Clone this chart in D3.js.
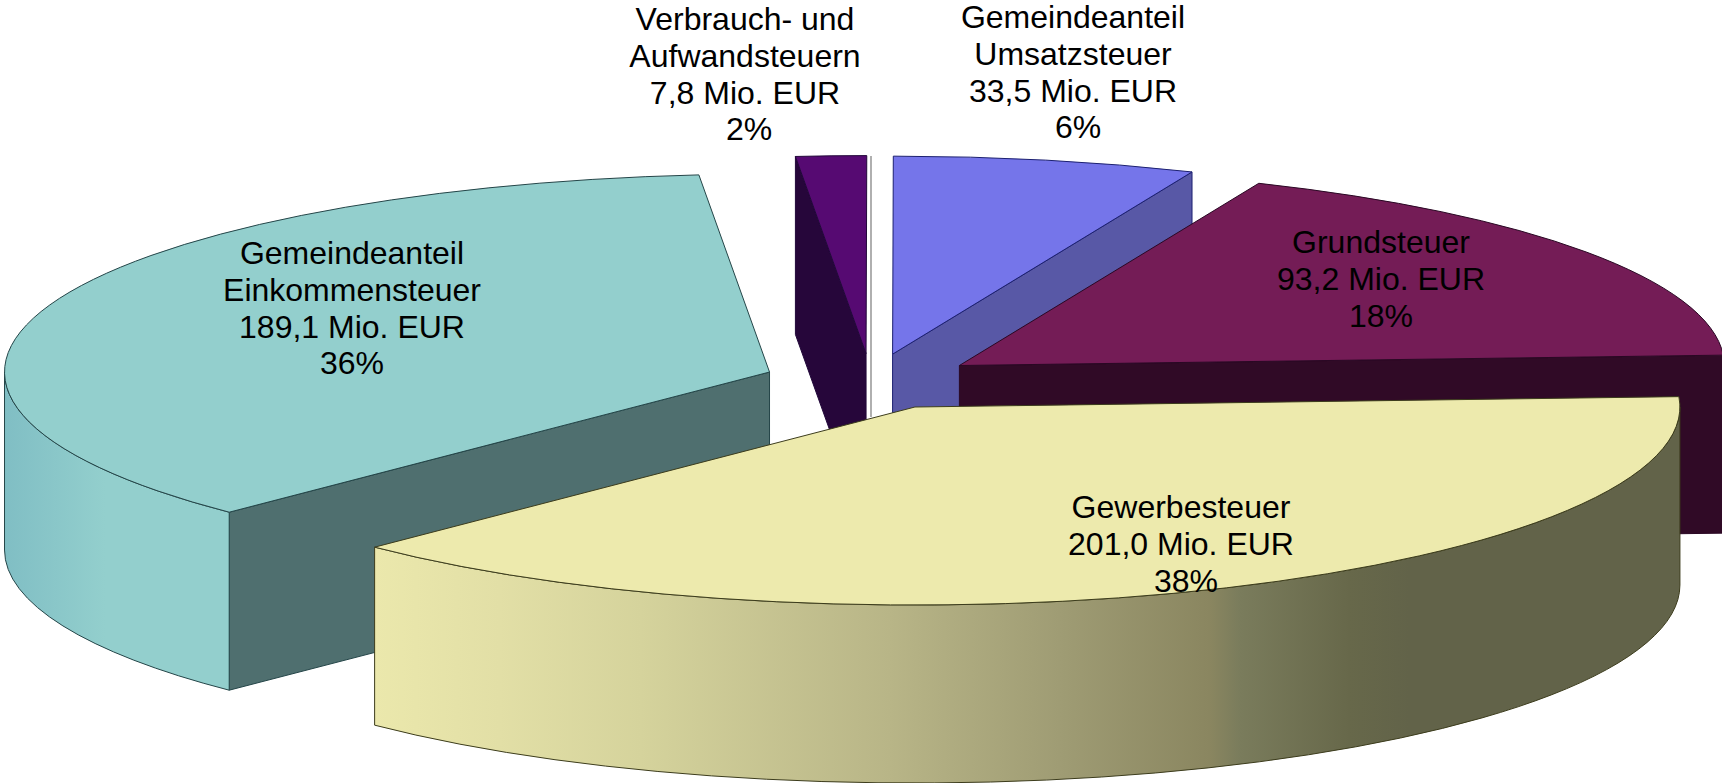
<!DOCTYPE html>
<html><head><meta charset="utf-8">
<style>html,body{margin:0;background:#fff}svg{display:block}text{font-family:"Liberation Sans",Arial,sans-serif;font-size:32px;fill:#000;text-anchor:middle}</style>
<script src="https://cdn.jsdelivr.net/npm/d3@7"></script>
</head><body>
<script>
// Data, clockwise from the slice that starts just above the right-hand extreme
const names = [["Gewerbesteuer"],["Gemeindeanteil","Einkommensteuer"],["Verbrauch- und","Aufwandsteuern"],["Gemeindeanteil","Umsatzsteuer"],["Grundsteuer"]];
const values = [201.0,189.1,7.8,33.5,93.2];
const percents = ["38%","36%","2%","6%","18%"];

// Styles
const topColors = ["#edeaad","#93cfcd","#560a72","#7575ea","#741c56"];
const cutColors = ["#62623f","#4f6f6f","#26063a","#5858a6","#300a26"];
const strokeColors = ["#3c3c1c","#244548","#22083a","#1c2070","#2a0824"];
const wallFills = ["url(#wallYellow)","url(#wallTeal)","#26063a","#5858a6","#300a26"];
const yellowStops = [[0,"#ebe8ac"],[.096,"#e2dfa6"],[.204,"#d5d39c"],[.395,"#b8b587"],[.525,"#9f9c74"],[.64,"#8a8660"],[.663,"#7a7c5c"],[.747,"#67684a"],[.793,"#626349"],[1,"#626349"]];
const tealStops = [[0,"#80bec4"],[.45,"#93cfcd"],[1,"#93cfcd"]];

// Layout
const W=1722,H=783, rx=765, ry=198, depth=178, explode=.141;
const cx=871, cy=381.5, startDeg=87;
const labelX=[1181,352,745,1073,1381], labelY=[518,264,30,28,253], lineGap=36.8;
const percentDx=[5,0,4,5,0];
const guide={top:156,bottom:417};

const svg=d3.select("body").append("svg").attr("width",W).attr("height",H);
const defs=svg.append("defs");
function grad(id,stops,x1,x2){
  const g=defs.append("linearGradient").attr("id",id).attr("gradientUnits","userSpaceOnUse")
    .attr("x1",x1).attr("x2",x2).attr("y1",0).attr("y2",0);
  stops.forEach(s=>g.append("stop").attr("offset",s[0]).attr("stop-color",s[1]));
}
const rad=Math.PI/180, TAU=2*Math.PI;
const pie=d3.pie().value(v=>v).sort(null).startAngle(startDeg*rad).endAngle(startDeg*rad+TAU);
const arcs=pie(values);
const ell=(a,θ,dy=0)=>[a[0]+rx*Math.sin(θ), a[1]-ry*Math.cos(θ)+dy];
const P=p=>p[0].toFixed(2)+" "+p[1].toFixed(2);
const arcTo=(p,back,large)=>`A${rx} ${ry} 0 ${large?1:0} ${back?0:1} ${P(p)}`;

arcs.forEach(d=>{const m=(d.startAngle+d.endAngle)/2;
  d.apex=[cx+explode*rx*Math.sin(m), cy-explode*ry*Math.cos(m)];});
grad("wallYellow",yellowStops,arcs[0].apex[0]-541,arcs[0].apex[0]+rx);
grad("wallTeal",tealStops,arcs[1].apex[0]-rx,arcs[1].apex[0]-541);

const zOrder=[1,2,3,4,0];
zOrder.forEach(i=>{
  const d=arcs[i], a=d.apex, g=svg.append("g").attr("stroke",strokeColors[i]).attr("stroke-width",1).attr("stroke-linejoin","round");
  // cut faces
  const wall=(θ)=>{const o=ell(a,θ);
    g.append("path").attr("fill",cutColors[i])
     .attr("d",`M${P(a)}L${P(o)}L${P([o[0],o[1]+depth])}L${P([a[0],a[1]+depth])}Z`);};
  if(Math.sin(d.startAngle)<-1e-3) wall(d.startAngle);
  if(Math.sin(d.endAngle)>1e-3) wall(d.endAngle);
  // outer rim: visible part lies between the right and left extremes
  const lo=Math.max(d.startAngle,Math.PI/2), hi=Math.min(d.endAngle,1.5*Math.PI);
  if(hi>lo){
    const p0=ell(a,lo),p1=ell(a,hi),l=hi-lo>Math.PI;
    g.append("path").attr("fill",wallFills[i])
     .attr("d",`M${P(p0)}${arcTo(p1,false,l)}L${P([p1[0],p1[1]+depth])}${arcTo([p0[0],p0[1]+depth],true,l)}Z`);
  }
  // top face
  const s=ell(a,d.startAngle),e=ell(a,d.endAngle);
  g.append("path").attr("fill",topColors[i])
   .attr("d",`M${P(a)}L${P(s)}${arcTo(e,false,d.endAngle-d.startAngle>Math.PI)}Z`);
});

svg.append("line").attr("x1",cx).attr("x2",cx).attr("y1",guide.top).attr("y2",guide.bottom)
  .attr("stroke","#9c9c9c").attr("stroke-width",1.6);

// labels
names.forEach((n,i)=>{
  const lines=[...n, values[i].toFixed(1).replace(".",",")+" Mio. EUR", percents[i]];
  const t=svg.append("text");
  lines.forEach((l,k)=>t.append("tspan")
    .attr("x",labelX[i]+(k===lines.length-1?percentDx[i]:0))
    .attr("y",labelY[i]+k*lineGap).text(l));
});
</script>
</body></html>
